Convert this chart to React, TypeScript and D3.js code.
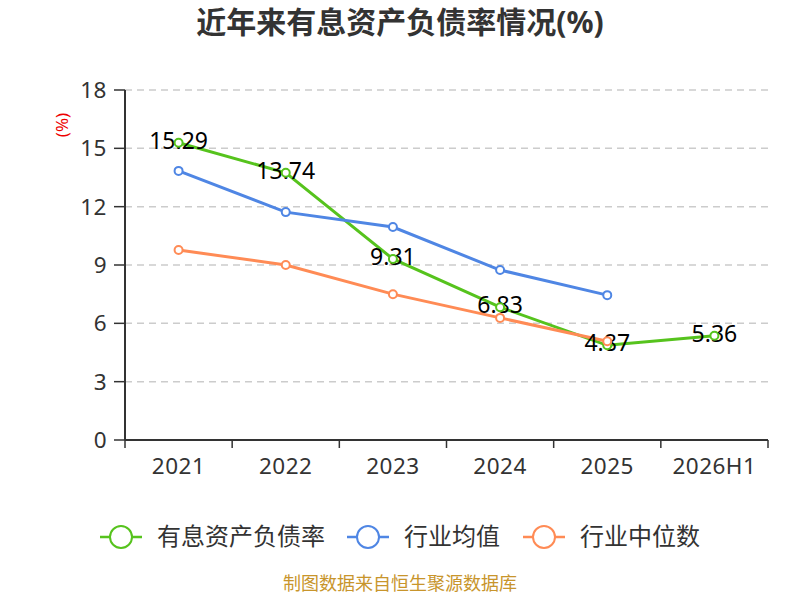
import React from 'react';
import * as d3 from 'd3';

const categories = ['2021', '2022', '2023', '2024', '2025', '2026H1'];
const debtRatio = [15.29, 13.74, 9.31, 6.83, 4.87, 5.36];
const industryAvg = [13.84, 11.72, 10.95, 8.74, 7.45, null];
const industryMedian = [9.77, 9.0, 7.5, 6.28, 5.08, null];
const yTicks = [0, 3, 6, 9, 12, 15, 18];

const series = [
  { name: '有息资产负债率', values: debtRatio, color: '#56c31d' },
  { name: '行业均值', values: industryAvg, color: '#4f86e4' },
  { name: '行业中位数', values: industryMedian, color: '#ff8b55' },
];

const W = 800;
const H = 600;
const margin = { left: 125, right: 32, top: 90, bottom: 160 };
const font = '"Noto Sans", "Noto Sans CJK SC", sans-serif';

export default function App() {
  const x = d3
    .scaleBand<string>()
    .domain(categories)
    .range([margin.left, W - margin.right]);
  const y = d3
    .scaleLinear()
    .domain([0, 18])
    .range([H - margin.bottom, margin.top]);
  const cx = (c: string) => (x(c) || 0) + x.bandwidth() / 2;

  const line = d3
    .line<number | null>()
    .defined((d) => d != null)
    .x((_, i) => cx(categories[i]))
    .y((d) => y(d as number));

  // legend slots: left edge of the marker line
  const legendX = [100, 347, 523];

  return (
    <svg width={W} height={H} style={{ position: 'absolute', left: 0, top: 0 }} fontFamily={font}>
      <text x={W / 2} y={33} textAnchor="middle" fontSize={30} fontWeight="bold" fill="#333">
        近年来有息资产负债率情况(%)
      </text>

      {yTicks.map((t) => (
        <g key={t}>
          {t > 0 && (
            <line
              x1={margin.left}
              x2={W - margin.right}
              y1={y(t)}
              y2={y(t)}
              stroke="#ccc"
              strokeDasharray="7 5"
              strokeWidth={1.5}
            />
          )}
          <line x1={margin.left - 11} x2={margin.left} y1={y(t)} y2={y(t)} stroke="#333" strokeWidth={1.5} />
          <text
            x={margin.left - 18}
            y={y(t)}
            dy="0.35em"
            textAnchor="end"
            fontSize={22.5}
            letterSpacing={0.5}
            fill="#333"
          >
            {t}
          </text>
        </g>
      ))}
      <line x1={margin.left} x2={margin.left} y1={margin.top} y2={y(0)} stroke="#333" strokeWidth={2} />
      <text
        transform={`translate(62,${125}) rotate(-90)`}
        textAnchor="middle"
        dy="0.35em"
        fontSize={17}
        fill="#e00"
      >
        (%)
      </text>

      <line x1={margin.left} x2={W - margin.right} y1={y(0)} y2={y(0)} stroke="#333" strokeWidth={2} />
      {categories.map((c, i) => (
        <g key={c}>
          <line x1={x(c)} x2={x(c)} y1={y(0)} y2={y(0) + 8} stroke="#333" strokeWidth={1.5} />
          {i === categories.length - 1 && (
            <line
              x1={W - margin.right}
              x2={W - margin.right}
              y1={y(0)}
              y2={y(0) + 8}
              stroke="#333"
              strokeWidth={1.5}
            />
          )}
          <text
            x={cx(c)}
            y={y(0) + 26}
            dy="0.35em"
            textAnchor="middle"
            fontSize={22.5}
            letterSpacing={0.5}
            fill="#333"
          >
            {c}
          </text>
        </g>
      ))}

      {series.map((s) => (
        <path key={s.name} d={line(s.values) || ''} fill="none" stroke={s.color} strokeWidth={3} />
      ))}

      {debtRatio.map((v, i) => (
        <text
          key={i}
          x={cx(categories[i])}
          y={y(v) - 2}
          dy="0.35em"
          textAnchor="middle"
          fontSize={23}
          fill="#000"
        >
          {v.toFixed(2)}
        </text>
      ))}

      {series.map((s) => (
        <g key={s.name}>
          {s.values.map((v, i) =>
            v == null ? null : (
              <circle
                key={i}
                cx={cx(categories[i])}
                cy={y(v)}
                r={4}
                fill="#fff"
                stroke={s.color}
                strokeWidth={2}
              />
            ),
          )}
        </g>
      ))}

      {series.map((s, i) => (
        <g key={s.name} transform={`translate(${legendX[i]},537)`}>
          <line x1={0} x2={42} y1={0} y2={0} stroke={s.color} strokeWidth={2.5} />
          <circle cx={21} cy={0} r={11} fill="#fff" stroke={s.color} strokeWidth={2} />
          <text x={57} y={0} dy="0.35em" fontSize={24} fill="#333">
            {s.name}
          </text>
        </g>
      ))}

      <text x={W / 2} y={590} textAnchor="middle" fontSize={18} fill="#c8952c">
        制图数据来自恒生聚源数据库
      </text>
    </svg>
  );
}
